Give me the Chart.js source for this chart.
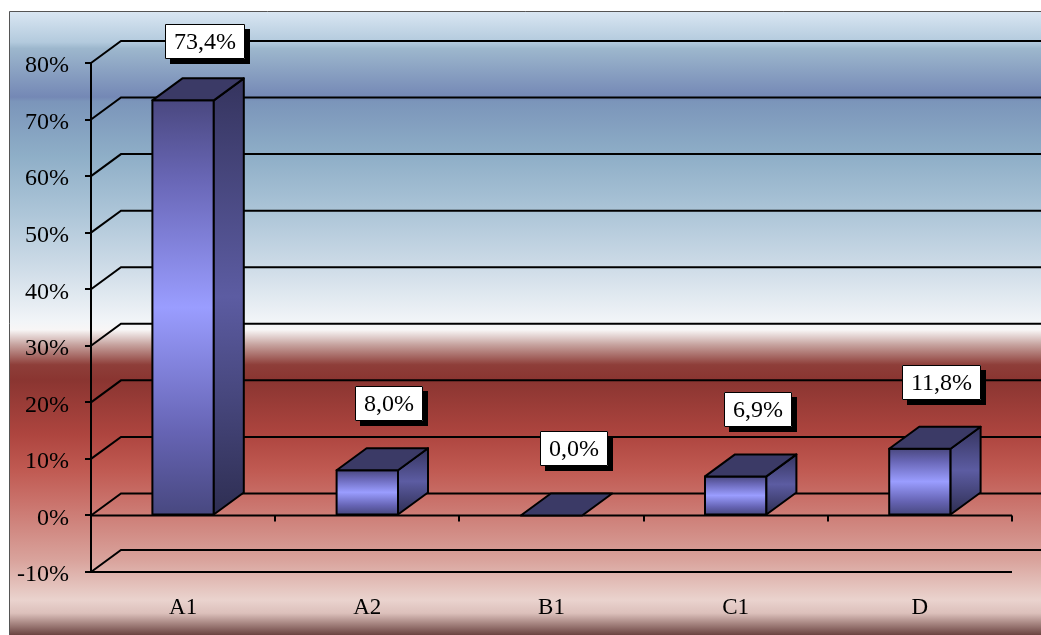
<!DOCTYPE html>
<html>
<head>
<meta charset="utf-8">
<script src="https://cdn.jsdelivr.net/npm/chart.js@4.4.1/dist/chart.umd.min.js"></script>
<style>
  html, body { margin: 0; padding: 0; background: #fff; }
  #wrap { width: 1041px; height: 635px; position: relative; }
</style>
</head>
<body>
<div id="wrap"><canvas id="chart"></canvas></div>
<script>
/* data */
const categories = ['A1', 'A2', 'B1', 'C1', 'D'];
const shares     = [73.4, 8.0, 0.0, 6.9, 11.8];   // percent
const yMin = -10, yMax = 80, yStep = 10;

const DX = 30, DY = -22;   // 3d depth offset
const FONT_FAMILY = '"Liberation Serif", "Times New Roman", serif';
const FONT = '24px ' + FONT_FAMILY;

const fmtPct = (v) => v.toFixed(1).replace('.', ',') + '%';

/* background + frame */
const backdrop = {
  id: 'backdrop',
  beforeDraw(chart) {
    const { ctx, width, height } = chart;
    ctx.save();
    ctx.fillStyle = '#fff';
    ctx.fillRect(0, 0, width, height);
    const g = ctx.createLinearGradient(0, 11, 0, height);
    const stops = [
      [0.000, '#dae7f3'], [0.050, '#b3cadd'], [0.060, '#9db7cd'],
      [0.138, '#7488b5'], [0.145, '#7b95ba'], [0.231, '#8eaec7'],
      [0.319, '#abc4d7'], [0.409, '#cddbe7'], [0.498, '#f2f5f8'],
      [0.511, '#f8f6f6'], [0.535, '#c6a29e'], [0.567, '#8e3e39'],
      [0.591, '#8a3531'], [0.679, '#ae453f'], [0.736, '#c05a52'],
      [0.784, '#c9716a'], [0.832, '#d18a83'], [0.880, '#d9a39c'],
      [0.944, '#ead3ce'], [0.965, '#dcc0bb'], [1.000, '#6b4441'],
    ];
    stops.forEach(([o, c]) => g.addColorStop(o, c));
    ctx.fillStyle = g;
    ctx.fillRect(9, 11, width - 9, height - 11);
    ctx.strokeStyle = '#555';
    ctx.lineWidth = 1;
    ctx.beginPath();
    ctx.moveTo(9.5, height);
    ctx.lineTo(9.5, 11.5);
    ctx.lineTo(width, 11.5);
    ctx.stroke();
    ctx.restore();
  },

  /* 3d walls: back gridlines, side diagonals, floor lines */
  beforeDatasetsDraw(chart) {
    const { ctx, chartArea: a, scales: { x, y } } = chart;
    ctx.save();
    ctx.strokeStyle = '#000';
    ctx.lineWidth = 2;
    y.ticks.forEach((t) => {
      const py = y.getPixelForValue(t.value);
      ctx.beginPath();
      ctx.moveTo(a.left, py);
      ctx.lineTo(a.left + DX, py + DY);
      ctx.lineTo(a.right + DX, py + DY);
      ctx.stroke();
    });
    [0, yMin].forEach((v) => {
      const py = y.getPixelForValue(v);
      ctx.beginPath();
      ctx.moveTo(a.left, py);
      ctx.lineTo(a.right, py);
      ctx.stroke();
    });
    // category ticks on the zero line
    const y0 = y.getPixelForValue(0);
    for (let i = 1; i <= categories.length; i++) {
      const px = Math.round(x.getPixelForValue(i - 0.5));
      ctx.beginPath();
      ctx.moveTo(px, y0);
      ctx.lineTo(px, y0 + 6);
      ctx.stroke();
    }
    ctx.restore();
  },

  /* bars as boxes, then value labels */
  afterDatasetsDraw(chart) {
    const { ctx } = chart;
    const meta = chart.getDatasetMeta(0);
    ctx.save();
    ctx.lineWidth = 2;
    ctx.strokeStyle = '#000';
    ctx.lineJoin = 'round';
    meta.data.forEach((bar) => {
      const { x, y, base, width } = bar.getProps(['x', 'y', 'base', 'width'], true);
      const l = x - width / 2, r = x + width / 2;
      const h = base - y;

      if (h > 0.5) {
        const gf = ctx.createLinearGradient(0, y, 0, base);
        gf.addColorStop(0, '#4a4880');
        gf.addColorStop(0.2, '#6a68b8');
        gf.addColorStop(0.5, '#9a9dff');
        gf.addColorStop(0.8, '#6664b4');
        gf.addColorStop(1, '#484880');
        ctx.fillStyle = gf;
        ctx.beginPath();
        ctx.rect(l, y, width, h);
        ctx.fill();
        ctx.stroke();

        const gs = ctx.createLinearGradient(0, y + DY, 0, base);
        gs.addColorStop(0, '#35345e');
        gs.addColorStop(0.5, '#5c5ca2');
        gs.addColorStop(1, '#2e2e52');
        ctx.fillStyle = gs;
        ctx.beginPath();
        ctx.moveTo(r, y);
        ctx.lineTo(r + DX, y + DY);
        ctx.lineTo(r + DX, base + DY);
        ctx.lineTo(r, base);
        ctx.closePath();
        ctx.fill();
        ctx.stroke();
      }

      ctx.fillStyle = '#3b3a66';
      ctx.beginPath();
      ctx.moveTo(l, y);
      ctx.lineTo(l + DX, y + DY);
      ctx.lineTo(r + DX, y + DY);
      ctx.lineTo(r, y);
      ctx.closePath();
      ctx.fill();
      ctx.stroke();
    });

    // data labels: white box with black drop shadow
    ctx.font = FONT;
    ctx.textAlign = 'center';
    ctx.textBaseline = 'middle';
    ctx.lineWidth = 1;
    meta.data.forEach((bar, i) => {
      const { x, y } = bar.getProps(['x', 'y'], true);
      const txt = fmtPct(shares[i]);
      const bw = Math.round(ctx.measureText(txt).width + 18);
      const bh = 35;
      const cx = x + 22;
      const top = Math.max(24, Math.round(y - 49 - bh));
      const left = Math.round(cx - bw / 2);
      ctx.fillStyle = '#000';
      ctx.fillRect(left + 5, top + 5, bw, bh);
      ctx.fillStyle = '#fff';
      ctx.fillRect(left, top, bw, bh);
      ctx.strokeStyle = '#000';
      ctx.strokeRect(left + 0.5, top + 0.5, bw - 1, bh - 1);
      ctx.fillStyle = '#000';
      ctx.fillText(txt, left + bw / 2, top + bh / 2 + 1);
    });
    ctx.restore();
  },
};

new Chart(document.getElementById('chart'), {
  type: 'bar',
  data: {
    labels: categories,
    datasets: [{
      data: shares,
      backgroundColor: 'rgba(0,0,0,0)',
      borderWidth: 0,
      barPercentage: 1 / 3,
      categoryPercentage: 1,
    }],
  },
  options: {
    responsive: true,
    maintainAspectRatio: false,
    animation: false,
    events: [],
    layout: { padding: { top: 63, right: 29, left: 0, bottom: 0 } },
    plugins: {
      legend: { display: false },
      tooltip: { enabled: false },
    },
    scales: {
      x: {
        offset: true,
        grid: { display: false },
        border: { display: false },
        ticks: { color: '#000', font: { family: FONT_FAMILY, size: 23 }, padding: 14 },
        afterFit: (s) => { s.height = 63; },
      },
      y: {
        min: yMin,
        max: yMax,
        ticks: {
          stepSize: yStep,
          color: '#000',
          font: { family: FONT_FAMILY, size: 24 },
          padding: 16,
          labelOffset: 3,
          callback: (v) => v + '%',
        },
        grid: { drawOnChartArea: false, drawTicks: true, tickLength: 6, color: '#000', lineWidth: 2 },
        border: { display: true, color: '#000', width: 2 },
        afterFit: (s) => { s.width = 91; },
      },
    },
  },
  plugins: [backdrop],
});
</script>
</body>
</html>
